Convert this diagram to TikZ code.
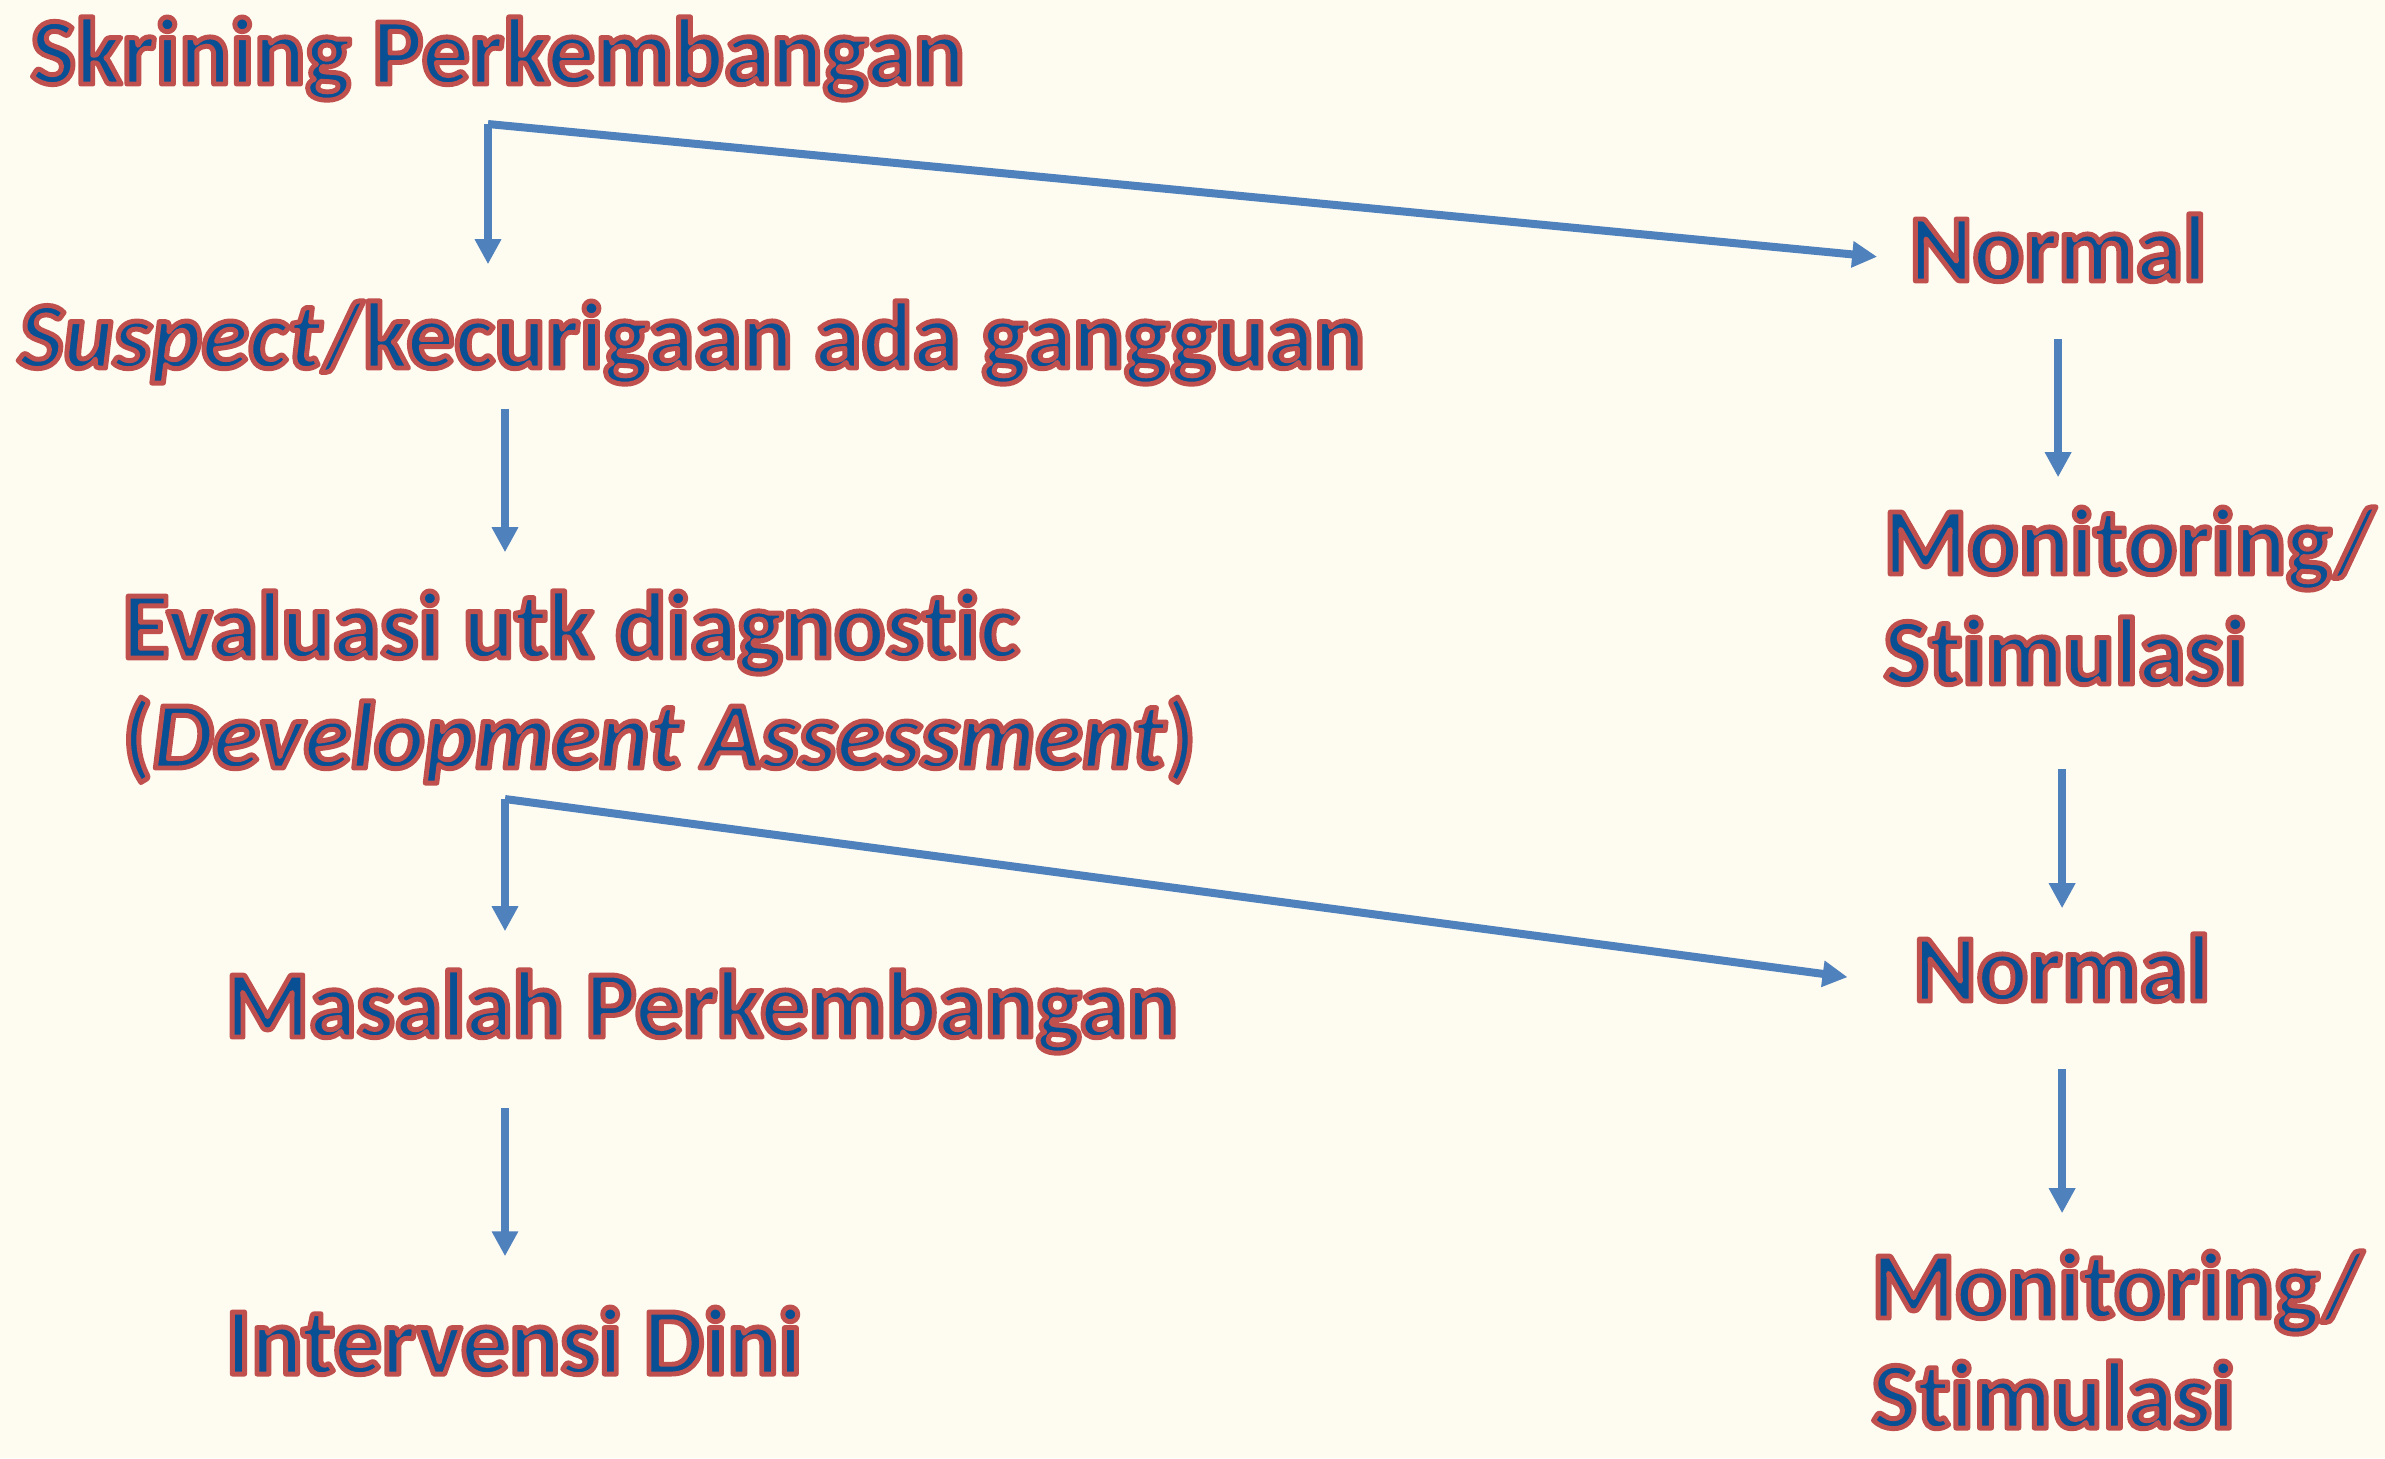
\documentclass[tikz,border=0pt]{standalone}
\usepackage{fontspec}
\setmainfont{Carlito}[Ligatures=NoCommon]
\usetikzlibrary{arrows.meta}

\definecolor{bgcream}{HTML}{FEFBF0}
\definecolor{arrblue}{HTML}{4F81BD}

\begin{document}
\begin{tikzpicture}[x=0.1mm, y=-0.1mm,
    lbl/.style={anchor=base west, inner sep=0pt, align=left,
        font=\fontsize{27.2pt}{31.3pt}\selectfont\bfseries,
        execute at begin node={\special{pdf:bcolor [0.035 0.31 0.58] [0.753 0.314 0.302]}\special{pdf:literal direct 1.4 w 1 j 2 Tr}},
        execute at end node={\special{pdf:literal direct 0 Tr}\special{pdf:ecolor}}},
    arr/.style={draw=arrblue, line width=0.8mm, -{Triangle[width=2.5mm, length=2.5mm]}}]
    \fill[bgcream] (0,0) rectangle (2385,1458);
    \useasboundingbox (0,0) rectangle (2385,1458);
    % left column
    \node[lbl] (skrining) at (30,84) {Skrining Perkembangan};
    \node[lbl] (suspect) at (18,368) {\textit{Suspect}/kecurigaan ada gangguan};
    \node[lbl] (evaluasi) at (122,768) {Evaluasi utk diagnostic\\(\textit{Development Assessment})};
    \node[lbl] (masalah) at (225,1037) {Masalah Perkembangan};
    \node[lbl] (intervensi) at (225,1374) {Intervensi Dini};
    % right column
    \node[lbl] (normalA) at (1909,281) {Normal};
    \node[lbl] (monitorA) at (1883,684) {Monitoring/\\Stimulasi};
    \node[lbl] (normalB) at (1913,1001) {Normal};
    \node[lbl] (monitorB) at (1871,1428) {Monitoring/\\Stimulasi};
    % forks
    \coordinate (fork1) at (488,124);
    \coordinate (fork2) at (505,799);
    \draw[arr, shorten >=3.6mm] (fork1) -- (fork1 |- suspect.north);
    \draw[arr, shorten >=3.2mm] (fork1) -- ([yshift=-1.2mm]normalA.west);
    \draw[arr, shorten <=2.4mm, shorten >=3.8mm] (suspect.south -| fork2) -- (evaluasi.north -| fork2);
    \draw[arr, shorten >=3.8mm] (fork2) -- (fork2 |- masalah.north);
    \draw[arr, shorten >=6.6mm] (fork2) -- ([yshift=-1.8mm]normalB.west);
    \draw[arr, shorten <=5.4mm, shorten >=5mm] (masalah.south -| fork2) -- (intervensi.north -| fork2);
    \draw[arr, shorten <=5.7mm, shorten >=2.9mm] (normalA.south) -- (normalA.south |- monitorA.north);
    \draw[arr, shorten <=8.4mm, shorten >=2.5mm] (normalB.north |- monitorA.south) -- (normalB.north);
    \draw[arr, shorten <=6.7mm, shorten >=3.7mm] (normalB.south) -- (normalB.south |- monitorB.north);
\end{tikzpicture}
\end{document}
